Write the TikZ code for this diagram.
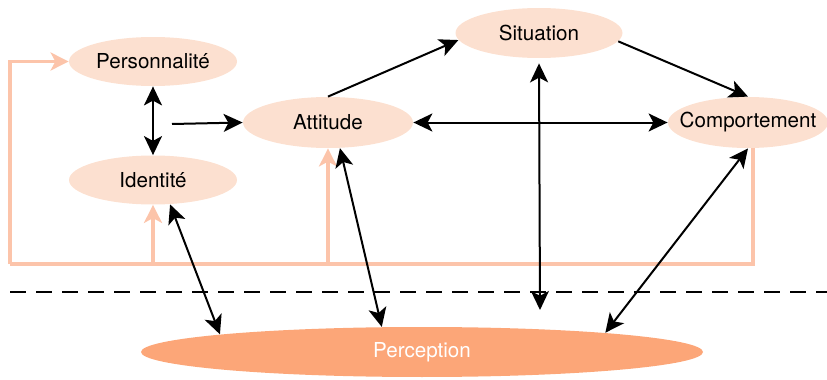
\documentclass[tikz,border=0pt]{standalone}
\usepackage{fontspec}
\setmainfont{TeX Gyre Heros}
\usetikzlibrary{shapes.geometric,arrows.meta}
\definecolor{peach}{HTML}{FCE0D0}
\definecolor{percfill}{HTML}{FCA678}
\definecolor{fbline}{HTML}{FCC4AA}
\newcommand{\zbox}[1]{\makebox[0pt]{#1}}
\begin{document}
\begin{tikzpicture}[x=0.5pt,y=-0.5pt,
  ell/.style={ellipse,fill=peach,inner sep=0pt,font=\fontsize{10.3}{12}\selectfont},
  tipb/.tip={Stealth[length=9.5pt,width=9pt,inset=2.4pt]},
  one/.style={line width=1pt,black,-tipb},
  two/.style={line width=1pt,black,tipb-tipb},
  fb/.style={line width=1.8pt,fbline,-{Stealth[length=9pt,width=9pt,inset=2.4pt]}},
  fbn/.style={line width=1.8pt,fbline}]
\useasboundingbox (0,0) rectangle (827,380);
% nodes
\node[ell,minimum width=84pt,minimum height=24.5pt] (pers) at (153,61.5) {\zbox{Personnalité}};
\node[ell,minimum width=84pt,minimum height=24.5pt] (iden) at (153,180) {\zbox{Identité}};
\node[ell,minimum width=85pt,minimum height=25.5pt] (att) at (328,122.5) {\zbox{Attitude}};
\node[ell,minimum width=83.5pt,minimum height=25pt] (sit) at (539,33) {\zbox{Situation}};
\node[ell,minimum width=80pt,minimum height=25.5pt] (comp) at (748,122.5) {\zbox{Comportement}};
\node[ellipse,fill=percfill,inner sep=0pt,minimum width=281pt,minimum height=25pt,
      text=white,font=\fontsize{10.3}{12}\selectfont] (perc) at (422,352) {\zbox{Perception}};
% coordinates
\coordinate (o1) at (753,264);
\coordinate (oL) at (10,264);
\coordinate (src) at (172,124);
\coordinate (sdown) at (540,310);
\coordinate (d1) at (10,292);
\coordinate (d2) at (827,292);
% feedback lines
\draw[fbn] (o1 |- comp.south) -- (o1) -- (oL);
\draw[fb] (oL) |- (pers.west);
\draw[fb] (iden.south |- oL) -- (iden.south);
\draw[fb] (att.south |- oL) -- (att.south);
% dashed separator
\draw[line width=1pt,dash pattern=on 8pt off 5pt] (d1) -- (d2);
% black connectors
\draw[two] (pers.south) -- (iden.north);
\draw[one] (src) -- (att.west);
\draw[one] (att.north) -- (sit.185);
\draw[one] (sit.-6) -- (comp.north);
\draw[two] (att.east) -- (comp.west);
\draw[two,shorten <=2.5pt] (sit.south) -- (sdown);
\draw[two] (iden.-55) -- (perc.175.2);
\draw[two] (att.-65) -- (perc.148.3);
\draw[two] (comp.south) -- (perc.6.05);
\end{tikzpicture}
\end{document}
